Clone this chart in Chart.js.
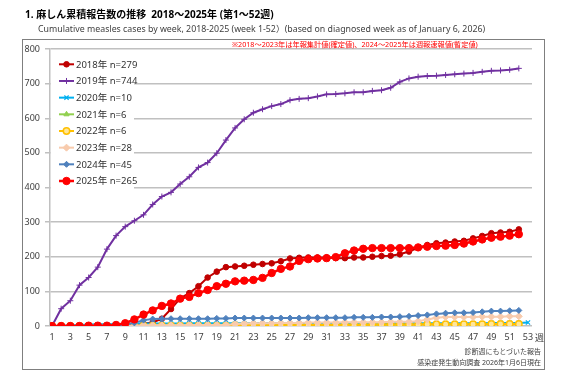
<!DOCTYPE html>
<html><head><meta charset="utf-8">
<script src="https://cdn.jsdelivr.net/npm/chart.js@4/dist/chart.umd.min.js"></script>
<style>
html,body{margin:0;padding:0;background:#fff;}
#wrap{position:relative;width:567px;height:391px;overflow:hidden;font-family:"Noto Sans","Noto Sans CJK JP",sans-serif;}
#frame{position:absolute;left:22px;top:39px;width:521px;height:329px;border:1.5px solid #7f7f7f;}
canvas{position:absolute;left:0;top:0;}
.t{position:absolute;white-space:nowrap;line-height:1;}
</style></head>
<body><div id="wrap">
<div id="frame"></div>
<canvas id="c" width="567" height="391"></canvas>
<div class="t" style="left:25px;top:9px;font-size:10px;font-weight:bold;color:#000;">1. 麻しん累積報告数の推移&nbsp;&nbsp;2018～2025年 (第1～52週)</div>
<div class="t" style="left:38px;top:25px;font-size:8.8px;color:#404040;">Cumulative measles cases by week, 2018-2025 (week 1-52）(based on diagnosed week as of January 6, 2026)</div>
<div class="t" style="left:232px;top:41px;font-size:7.2px;color:#ff0000;">※2018～2023年は年報集計値(確定値)、2024～2025年は週報速報値(暫定値)</div>
<div class="t" style="left:535px;top:333px;font-size:9px;color:#404040;">週</div>
<div class="t" style="right:26px;top:348px;font-size:7px;color:#404040;">診断週にもとづいた報告</div>
<div class="t" style="right:26px;top:359px;font-size:7px;color:#404040;">感染症発生動向調査 2026年1月6日現在</div>
</div>
<script>
const weeks = [1,2,3,4,5,6,7,8,9,10,11,12,13,14,15,16,17,18,19,20,21,22,23,24,25,26,27,28,29,30,31,32,33,34,35,36,37,38,39,40,41,42,43,44,45,46,47,48,49,50,51,52,53];
const xTickLabels = [1,3,5,7,9,11,13,15,17,19,21,23,25,27,29,31,33,35,37,39,41,43,45,47,49,51,53];
const yTicks = [0,100,200,300,400,500,600,700,800];
const seriesNames = ["2018年 n=279","2019年 n=744","2020年 n=10","2021年 n=6","2022年 n=6","2023年 n=28","2024年 n=45","2025年 n=265"];

const y2018 = [0,0,0,0,0,1,1,1,2,4, 7,10,21,49,80,95,115,140,157,170, 172,174,177,179,181,187,195,197,198,198, 198,196,196,198,198,200,202,203,207,215, 226,234,239,241,244,246,253,260,268,270, 272,279];
const y2019 = [0,50,73,118,140,170,222,261,287,304, 321,351,374,386,410,431,458,472,499,537, 572,597,616,626,635,641,652,656,658,663, 669,670,672,675,675,679,681,688,705,715, 720,722,723,725,727,729,731,734,737,738, 740,744];
const y2020 = [0,1,2,3,4,5,5,6,6,7, 7,7,7,7,7,8,8,8,8,8, 8,8,8,8,8,8,8,8,8,8, 8,8,8,8,8,8,8,8,8,8, 8,8,8,8,8,8,8,8,9,9, 9,9,10];
const y2021 = [0,0,0,0,0,0,1,1,1,1, 1,1,1,1,1,2,2,2,2,2, 2,2,2,2,3,3,3,3,3,3, 3,3,4,4,4,4,4,4,4,4, 5,5,5,5,5,5,5,5,6,6, 6,6];
const y2022 = [0,0,0,0,0,0,0,0,0,0, 1,1,1,1,1,1,1,1,1,1, 2,2,2,2,2,2,2,2,3,3, 3,3,3,3,3,4,4,4,4,4, 4,5,5,5,5,5,5,5,6,6, 6,6];
const y2023 = [0,0,0,0,0,1,1,1,1,1, 2,2,2,2,2,3,3,3,3,3, 6,7,8,8,8,9,9,9,10,10, 10,10,11,11,11,11,11,12,12,12, 14,19,24,26,26,26,26,27,27,27, 28,28];
const y2024 = [0,0,0,0,0,1,1,2,4,9, 17,20,21,21,21,21,21,21,22,22, 23,23,23,23,23,23,23,23,24,24, 24,24,24,25,25,25,26,26,27,28, 30,32,35,37,38,38,39,41,43,43, 44,45];
const y2025 = [0,0,0,0,1,1,1,3,8,19, 33,45,58,65,79,84,95,104,115,122, 129,131,133,139,153,165,172,188,193,195, 196,199,210,218,223,225,225,225,225,225, 227,229,231,232,234,238,244,250,255,258, 261,265];

const allSeries = [y2018,y2019,y2020,y2021,y2022,y2023,y2024,y2025];
const styles = [
  {c:'#C00000', ps:'circle', r:2.8, bg:'#C00000', bw:1, lw:2},
  {c:'#7030A0', ps:'cross', r:3, bg:'#7030A0', bw:1, lw:2},
  {c:'#00B0F0', ps:'crossRot', r:3, bg:'#00B0F0', bw:1.2, lw:2},
  {c:'#92D050', ps:'triangle', r:3, bg:'#92D050', bw:1, lw:2},
  {c:'#FFC000', ps:'circle', r:3.2, bg:'#FFE699', bw:1.5, lw:2},
  {c:'#F8CBAD', ps:'rectRot', r:3.5, bg:'#F8CBAD', bw:1, lw:2},
  {c:'#4F81BD', ps:'rectRot', r:3, bg:'#4F81BD', bw:1, lw:2},
  {c:'#FF0000', ps:'circle', r:3.7, bg:'#FF0000', bw:1, lw:2.5}
];

const datasets = allSeries.map((vals,i)=>({
  label: seriesNames[i],
  data: vals.map((v,k)=>({x:weeks[k], y:v})),
  borderColor: styles[i].c,
  borderWidth: styles[i].lw,
  pointStyle: styles[i].ps,
  pointRadius: styles[i].r,
  pointBackgroundColor: styles[i].bg,
  pointBorderColor: styles[i].c,
  pointBorderWidth: styles[i].bw,
  tension: 0,
  order: 7 - i
}));

const FONT = '"Noto Sans","Noto Sans CJK JP",sans-serif';

const legendPlugin = {
  id:'inlegend',
  beforeDatasetsDraw(chart){
    const ctx = chart.ctx;
    ctx.save(); ctx.fillStyle='#fff'; ctx.fillRect(51,54,83,137); ctx.restore();
  },
  afterDatasetsDraw(chart){
    const ctx = chart.ctx;
    chart.data.datasets.forEach((ds,i)=>{
      const y = 64.3 + i*16.67;
      ctx.save();
      ctx.strokeStyle = ds.borderColor; ctx.lineWidth = ds.borderWidth;
      ctx.beginPath(); ctx.moveTo(59,y); ctx.lineTo(74,y); ctx.stroke();
      ctx.fillStyle = ds.pointBackgroundColor; ctx.strokeStyle = ds.pointBorderColor; ctx.lineWidth = ds.pointBorderWidth;
      Chart.helpers.drawPoint(ctx,{pointStyle:ds.pointStyle,radius:ds.pointRadius,borderWidth:ds.pointBorderWidth,rotation:0},66.5,y);
      ctx.fillStyle='#333'; ctx.font='9.5px '+FONT; ctx.textBaseline='middle'; ctx.textAlign='left';
      ctx.fillText(ds.label, 76, y+0.5);
      ctx.restore();
    });
  }
};

new Chart(document.getElementById('c'), {
  type:'line',
  data:{datasets},
  options:{
    responsive:false, animation:false, devicePixelRatio:1,
    layout:{padding:{left:0,top:49,right:35,bottom:0}},
    plugins:{legend:{display:false}, tooltip:{enabled:false}},
    scales:{
      x:{type:'linear', min:0.78, max:53.44,
        afterBuildTicks:s=>{ s.ticks = xTickLabels.map(v=>({value:v})); },
        afterFit:s=>{ s.height = 65; },
        grid:{display:false, drawTicks:false},
        border:{display:false},
        ticks:{padding:6, font:{size:9, family:FONT}, color:'#404040', maxRotation:0, autoSkip:false}
      },
      y:{min:0, max:800,
        afterBuildTicks:s=>{ s.ticks = yTicks.map(v=>({value:v})); },
        afterFit:s=>{ s.width = 50; },
        grid:{color:'#C0C0C0', lineWidth:1.5, tickLength:5},
        border:{display:true, color:'#C0C0C0', width:1.5},
        ticks:{padding:5, font:{size:9, family:FONT}, color:'#404040'}
      }
    }
  },
  plugins:[legendPlugin]
});
</script>
</body></html>
